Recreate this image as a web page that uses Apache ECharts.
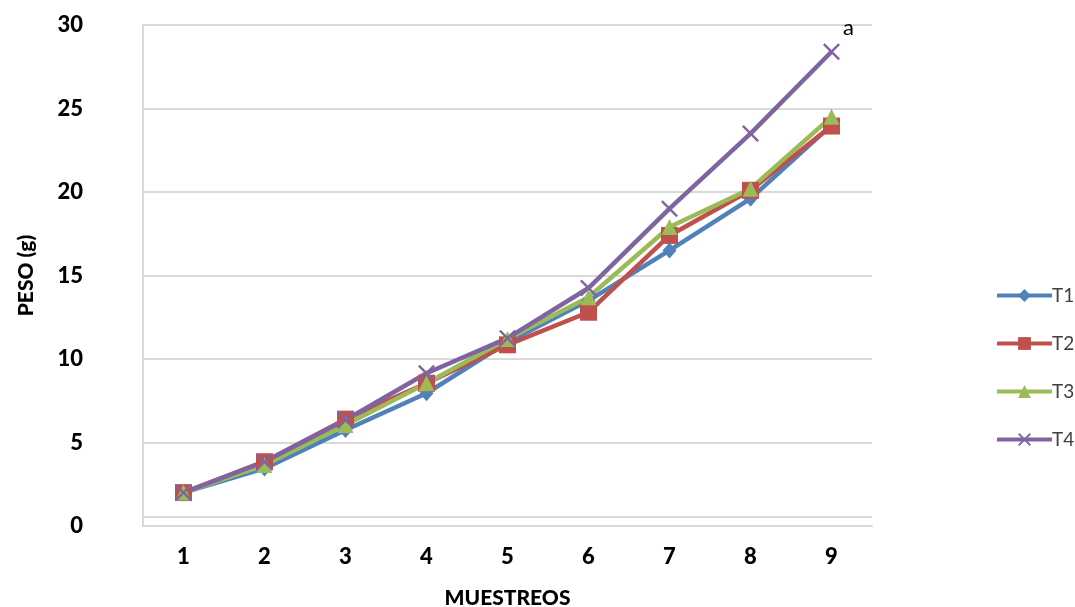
<!DOCTYPE html>
<html>
<head>
<meta charset="utf-8">
<script src="https://cdn.jsdelivr.net/npm/echarts@6/dist/echarts.min.js"></script>
<style>
  html, body { margin: 0; padding: 0; background: #fff; overflow: hidden; }
  #chart { width: 1075px; height: 607px; }
</style>
</head>
<body>
<div id="chart"></div>
<script>
// Sampling rounds (MUESTREOS) and mean weight per treatment, in grams
const muestreos = ['1', '2', '3', '4', '5', '6', '7', '8', '9'];
const t1 = [2.0, 3.45, 5.75, 7.95, 11.0, 13.5, 16.5, 19.6, 24.0];
const t2 = [2.0, 3.85, 6.4, 8.55, 10.85, 12.8, 17.4, 20.1, 23.95];
const t3 = [2.0, 3.65, 6.05, 8.55, 11.2, 13.7, 17.9, 20.2, 24.5];
const t4 = [2.0, 3.85, 6.35, 9.15, 11.25, 14.25, 19.0, 23.5, 28.4];
const seriesNames = ['T1', 'T2', 'T3', 'T4'];
const significance = 'a';

const FONT = 'Lato, "Open Sans", sans-serif';
const GRID = '#d9d9d9';
const crossPath = 'path://M0,1 L1,0 L5,4 L9,0 L10,1 L6,5 L10,9 L9,10 L5,6 L1,10 L0,9 L4,5 Z';

function lineSeries(name, data, color, symbol, size, extra) {
  return Object.assign({
    name: name,
    type: 'line',
    data: data,
    symbol: symbol,
    symbolSize: size,
    showAllSymbol: true,
    lineStyle: { color: color, width: 4.5 },
    itemStyle: { color: color },
    emphasis: { disabled: true },
    animation: false,
    z: 3
  }, extra || {});
}

const chart = echarts.init(document.getElementById('chart'), null, { renderer: 'canvas' });

chart.setOption({
  backgroundColor: '#ffffff',
  animation: false,
  grid: { left: 143, right: 203, top: 25, bottom: 81, containLabel: false, outerBoundsMode: 'none' },
  legend: {
    orient: 'vertical',
    left: 990,
    top: 281,
    itemWidth: 55,
    itemHeight: 16,
    itemGap: 29,
    data: seriesNames,
    lineStyle: { width: 4 },
    textStyle: { fontFamily: FONT, fontSize: 19, color: '#404040', padding: [0, 0, 0, -5] }
  },
  xAxis: {
    type: 'category',
    data: muestreos,
    boundaryGap: true,
    name: 'MUESTREOS',
    nameLocation: 'middle',
    nameGap: 62,
    nameTextStyle: { fontFamily: FONT, fontSize: 21, fontWeight: 900, color: '#000' },
    axisLine: { show: true, lineStyle: { color: GRID, width: 2 } },
    axisTick: { show: false },
    axisLabel: { fontFamily: FONT, fontSize: 22, fontWeight: 900, color: '#000', margin: 20 },
    splitLine: { show: false }
  },
  yAxis: {
    type: 'value',
    min: 0,
    max: 30,
    interval: 5,
    name: 'PESO (g)',
    nameLocation: 'middle',
    nameGap: 106,
    nameRotate: 90,
    nameTextStyle: { fontFamily: FONT, fontSize: 21, fontWeight: 900, color: '#000' },
    axisLine: { show: true, lineStyle: { color: GRID, width: 2 } },
    axisTick: { show: false },
    axisLabel: { fontFamily: FONT, fontSize: 22, fontWeight: 900, color: '#000', margin: 60 },
    splitLine: { show: true, lineStyle: { color: GRID, width: 2 } }
  },
  series: [
    lineSeries('T1', t1, '#4F81BD', 'diamond', [14, 16], {
      markLine: {
        silent: true,
        symbol: 'none',
        label: { show: false },
        lineStyle: { color: GRID, width: 2, type: 'solid' },
        data: [{ yAxis: 0.55 }],
        animation: false,
        z: 1
      }
    }),
    lineSeries('T2', t2, '#C0504D', 'rect', 17),
    lineSeries('T3', t3, '#9BBB59', 'triangle', [16, 16]),
    lineSeries('T4', t4, '#8064A2', crossPath, 17, {
      label: {
        show: true,
        position: 'top',
        distance: 5,
        offset: [17, 1],
        fontFamily: FONT,
        fontSize: 22,
        color: '#000',
        formatter: function (p) { return p.dataIndex === t4.length - 1 ? significance : ''; }
      }
    })
  ]
});
</script>
</body>
</html>
